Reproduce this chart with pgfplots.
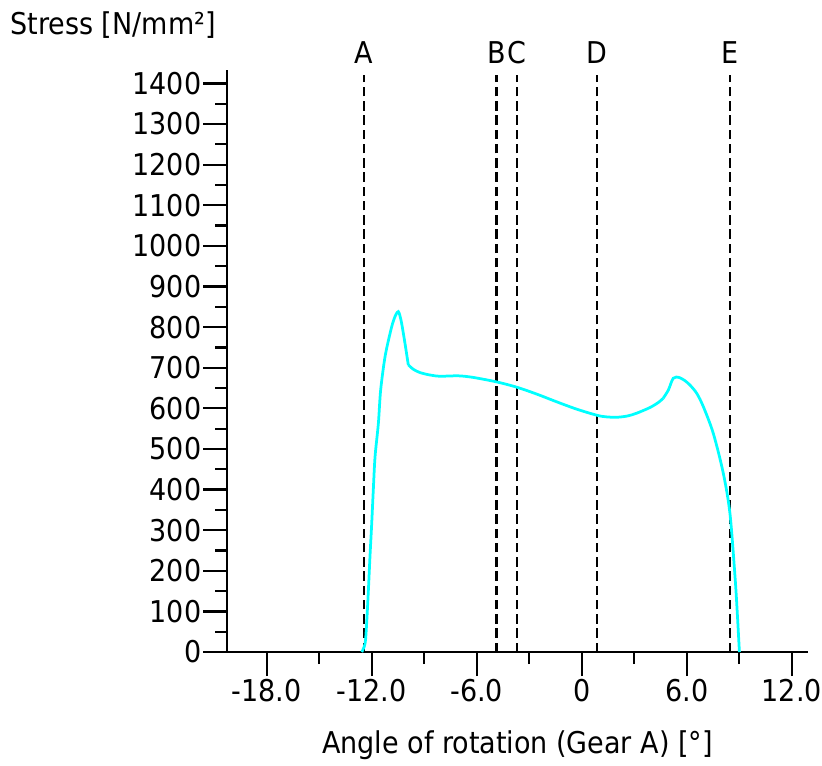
\documentclass[border=0pt]{standalone}
\usepackage{pgfplots}
\pgfplotsset{compat=1.18}
\usepackage{fontspec}
\setmainfont{DejaVu Sans Condensed}
\definecolor{curvecyan}{RGB}{0,255,255}
\newcommand{\lblfont}{\fontsize{12}{14}\selectfont}
\begin{document}
\begin{tikzpicture}
\useasboundingbox (-90.8pt,-45.2pt) rectangle (238pt,260.8pt);
\begin{axis}[
  scale only axis, width=232.4pt, height=232.8pt,
  xmin=-20.27, xmax=12.93, ymin=0, ymax=1433,
  axis x line*=bottom, axis y line*=left,
  axis line style={line width=0.9pt, black},
  tick align=outside,
  major tick length=9.6pt, minor tick length=4.8pt,
  tick style={line width=0.9pt, black},
  xtick={-18,-12,-6,0,6,12},
  xticklabels={-18.0,-12.0,-6.0,0,6.0,12.0},
  minor xtick={-15,-9,-3,3,9},
  ytick={0,100,200,300,400,500,600,700,800,900,1000,1100,1200,1300,1400},
  yticklabels={0,100,200,300,400,500,600,700,800,900,1000,1100,1200,1300,1400},
  minor ytick={50,150,250,350,450,550,650,750,850,950,1050,1150,1250,1350},
  tick label style={font=\lblfont},
  yticklabel style={inner xsep=0.5pt},
  xticklabel style={inner ysep=1pt},
  xlabel={Angle of rotation (Gear A) [°]},
  xlabel style={font=\lblfont, at={(axis description cs:0.5,0)}, anchor=center, yshift=-37.2pt},
  clip=false,
]
\addplot[black, line width=1pt, dash pattern=on 3.8pt off 1.9pt] coordinates {(-12.44,0) (-12.44,1420)};
\addplot[black, line width=1pt, dash pattern=on 3.8pt off 1.9pt] coordinates {(-4.86,0) (-4.86,1420)};
\addplot[black, line width=1pt, dash pattern=on 3.8pt off 1.9pt] coordinates {(-3.71,0) (-3.71,1420)};
\addplot[black, line width=1pt, dash pattern=on 3.8pt off 1.9pt] coordinates {(0.86,0) (0.86,1420)};
\addplot[black, line width=1pt, dash pattern=on 3.8pt off 1.9pt] coordinates {(8.47,0) (8.47,1420)};
\addplot[curvecyan, line width=1.1pt, smooth, tension=0.5] coordinates {
(-12.57,0) (-12.38,21) (-12.29,71) (-12.19,153) (-12.10,235) (-12.00,317)
(-11.91,399) (-11.81,481) (-11.62,563) (-11.49,645) (-11.24,727)
(-10.95,785) (-10.80,810) (-10.67,826) (-10.55,836) (-10.48,838) (-10.40,830)
(-10.29,809) (-10.10,760) (-9.91,707)
};
\addplot[curvecyan, line width=1.1pt, smooth, tension=0.5] coordinates {
(-9.91,707) (-9.62,696) (-9.24,688) (-8.67,682)
(-8.10,679) (-7.05,680) (-6.19,676) (-4.86,665) (-3.71,652) (-2.57,635)
(-1.43,616) (-0.29,598) (0.86,583) (1.40,579) (2.00,578) (2.60,581) (3.14,588)
(3.90,602) (4.40,615) (4.66,625)
};
\addplot[curvecyan, line width=1.1pt, smooth, tension=0.5] coordinates {
(4.66,625) (4.95,645) (5.10,662) (5.23,674) (5.40,677) (5.62,675)
(5.90,668) (6.19,657) (6.57,637) (6.95,604) (7.52,538) (8.09,440) (8.47,341)
(8.76,185) (8.89,95) (9.01,0)
};
\node[anchor=base, font=\lblfont] at (axis cs:-12.44,1450) {A};
\node[anchor=base, font=\lblfont] at (axis cs:-4.86,1450) {B};
\node[anchor=base, font=\lblfont] at (axis cs:-3.71,1450) {C};
\node[anchor=base, font=\lblfont] at (axis cs:0.86,1450) {D};
\node[anchor=base, font=\lblfont] at (axis cs:8.47,1450) {E};
\end{axis}
\node[anchor=west, font=\lblfont, inner sep=0pt] at (-86.8pt,250.8pt) {Stress [N/mm²]};
\end{tikzpicture}
\end{document}
